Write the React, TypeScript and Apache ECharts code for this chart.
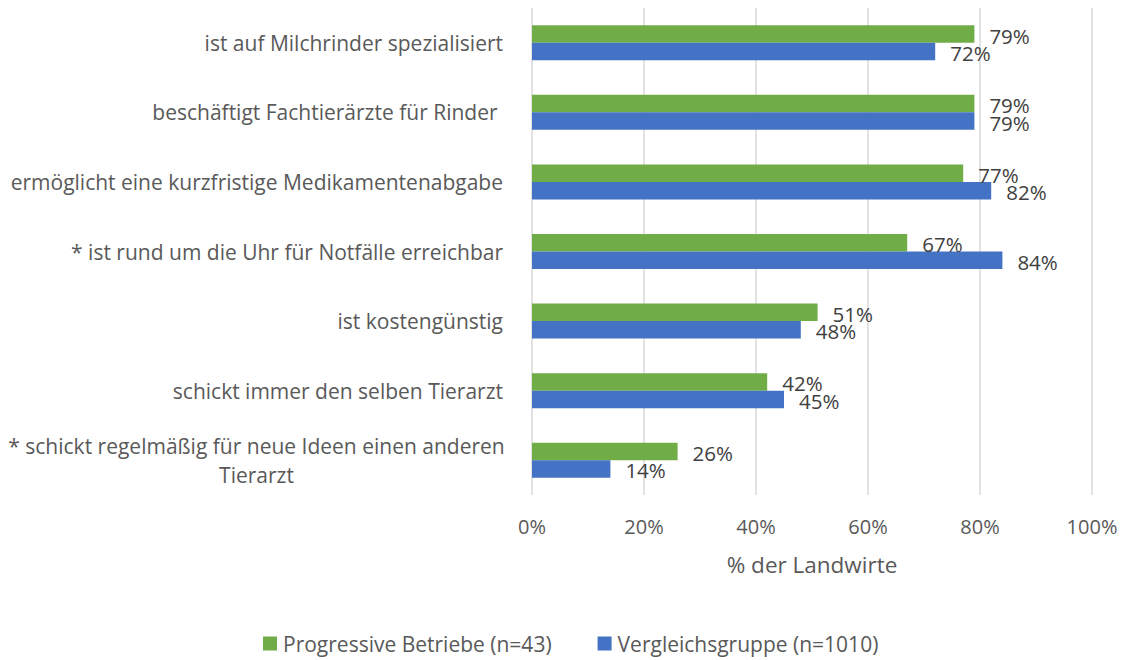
import React, { useEffect, useRef } from "react";
import * as echarts from "echarts";

const categories = [
  "ist auf Milchrinder spezialisiert",
  "beschäftigt Fachtierärzte für Rinder ",
  "ermöglicht eine kurzfristige Medikamentenabgabe",
  "* ist rund um die Uhr für Notfälle erreichbar",
  "ist kostengünstig",
  "schickt immer den selben Tierarzt",
  "* schickt regelmäßig für neue Ideen einen anderen\nTierarzt",
];
const progressive = [79, 79, 77, 67, 51, 42, 26];
const vergleich = [72, 79, 82, 84, 48, 45, 14];
const seriesNames = ["Progressive Betriebe (n=43)", "Vergleichsgruppe (n=1010)"];
const xTicks = [0, 20, 40, 60, 80, 100];

const FONT = "Open Sans";
const TEXT = "#595959";

export default function App() {
  const ref = useRef<HTMLDivElement>(null);
  useEffect(() => {
    const chart = echarts.init(ref.current!, undefined, { renderer: "svg" });
    const labelCfg = {
      show: true,
      position: "right",
      distance: 15,
      offset: [0, 1.5],
      formatter: (p: any) => p.value + "%",
      color: "#404040",
      fontSize: 20.5,
      fontFamily: FONT,
    };
    chart.setOption({
      animation: false,
      textStyle: { fontFamily: FONT },
      grid: { left: 532, right: 34, top: 8, bottom: 165, containLabel: false },
      xAxis: {
        type: "value",
        min: xTicks[0],
        max: xTicks[xTicks.length - 1],
        interval: 20,
        name: "% der Landwirte",
        nameLocation: "middle",
        nameGap: 58,
        nameTextStyle: { color: TEXT, fontSize: 22.5, fontFamily: FONT },
        axisLine: { show: false },
        axisTick: { show: false },
        axisLabel: {
          formatter: (v: number) => v + "%",
          color: TEXT,
          fontSize: 20,
          fontFamily: FONT,
          margin: 21,
        },
        splitLine: { lineStyle: { color: "#d9d9d9", width: 1.5 } },
      },
      yAxis: {
        type: "category",
        inverse: true,
        data: categories,
        axisLine: { show: false },
        axisTick: { show: false },
        axisLabel: {
          color: TEXT,
          fontSize: 21,
          fontFamily: FONT,
          margin: 29,
          formatter: (v: string) => {
            if (v.indexOf("\n") >= 0) {
              return v
                .split("\n")
                .map((l) => "{c|" + l + "}")
                .join("\n");
            }
            return v;
          },
          rich: {
            c: {
              width: 493,
              align: "center",
              fontSize: 21,
              color: TEXT,
              fontFamily: FONT,
              lineHeight: 29,
            },
          },
        },
      },
      legend: {
        top: 628,
        left: 258,
        itemWidth: 14,
        itemHeight: 14,
        itemGap: 46,
        icon: "rect",
        textStyle: { color: TEXT, fontSize: 21, fontFamily: FONT, padding: [0, 0, 0, 1] },
        data: seriesNames,
      },
      series: [
        {
          name: seriesNames[0],
          type: "bar",
          data: progressive,
          barWidth: 17.5,
          barGap: "0%",
          itemStyle: { color: "#70ad47" },
          label: labelCfg,
        },
        {
          name: seriesNames[1],
          type: "bar",
          data: vergleich,
          barWidth: 17.5,
          barGap: "0%",
          itemStyle: { color: "#4472c4" },
          label: labelCfg,
        },
      ],
    });
    return () => chart.dispose();
  }, []);
  return (
    <div
      ref={ref}
      style={{ position: "fixed", left: 0, top: 0, width: 1126, height: 660, background: "#fff" }}
    />
  );
}
